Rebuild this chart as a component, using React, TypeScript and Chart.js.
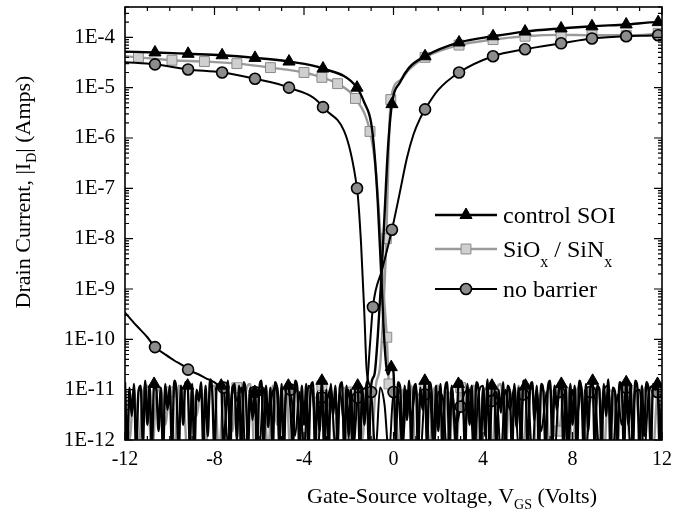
import React, { useEffect, useRef } from 'react';
import { Chart, registerables } from 'chart.js';

Chart.register(...registerables);

const SERIF = '"Liberation Serif", "Times New Roman", Times, serif';

// ---------------- axes ----------------
const X_MIN = -12;
const X_MAX = 12;
const X_STEP = 4;
const Y_MIN = 1e-12;
const Y_MAX = 4e-4;

// ---------------- marker positions (V) ----------------
const triMarkV = [-10.66, -9.18, -7.66, -6.19, -4.67, -3.15, -1.63, -0.07, 1.41, 2.93, 4.45, 5.88, 7.49, 8.87, 10.4, 11.83];
const sqMarkV = [-11.4, -9.9, -8.45, -7.0, -5.5, -4.0, -3.2, -2.5, -1.7, -1.05, -0.3, -0.12, 1.41, 2.93, 4.45, 5.88, 7.49, 8.87, 10.4, 11.83];
const circMarkV = [-10.66, -9.18, -7.66, -6.19, -4.67, -3.15, -1.63, -0.92, -0.07, 1.41, 2.93, 4.45, 5.88, 7.49, 8.87, 10.4, 11.83];

// ---------------- control SOI ----------------
// p-branch (on at negative V_GS), amps
const ctrlP_V = [-12, -10.66, -9.18, -7.66, -6.19, -4.67, -3.15, -1.63, -1.3, -1.0, -0.85, -0.7, -0.55, -0.4, -0.25];
const ctrlP_I = [5.2e-5, 5.0e-5, 4.7e-5, 4.4e-5, 3.9e-5, 3.3e-5, 2.4e-5, 1.0e-5, 5e-6, 2e-6, 5e-7, 5e-8, 2e-9, 8e-11, 2e-11];
// p-branch off-state floor, pA, from -0.1 V in 0.1 V steps
const ctrlP_offStart = -0.1;
const ctrlP_offStep = 0.1;
const ctrlP_off_pA = [
  28,
  22, 0.8, 14, 11, 0.5, 12, 2.5, 15, 0.6, 10,
  13, 0.5, 11, 4, 15, 0.7, 14, 9, 0.5, 12,
  1.5, 13, 0.6, 10, 14, 0.5, 12, 3, 0.8, 13,
  15, 9, 0.5, 13, 2, 12, 0.7, 14, 10, 0.5,
  11, 1.2, 16, 0.6, 12, 13, 0.5, 10, 3.5, 14,
  0.6, 12, 9, 0.5, 13, 1.8, 11, 0.7, 15, 12,
  0.5, 10, 14, 2.5, 12, 0.6, 13, 9, 0.5, 11,
  15, 0.8, 12, 4, 10, 13, 0.5, 11, 0.6, 13,
  2, 12, 0.5, 15, 9, 0.7, 13, 1.5, 11, 15,
  0.5, 12, 10, 0.6, 13, 3, 16, 0.5, 11, 9,
  0.8, 14, 12, 0.5, 14, 2, 13, 0.6, 15, 11,
  0.5, 12, 1.2, 14, 9, 0.6, 13, 10, 13, 0.5,
  12,
];
// n-branch off-state floor, pA, from -12 V in 0.1 V steps
const ctrlN_offStart = -12;
const ctrlN_offStep = 0.1;
const ctrlN_off_pA = [
  14, 0.6, 11, 3, 13, 0.5, 9, 12, 0.8, 15,
  2, 12, 0.7, 13, 10, 1.5, 11, 0.5, 13, 4,
  12, 0.6, 15, 9, 0.5, 12, 2, 14, 12, 0.8,
  13, 0.5, 10, 6, 14, 0.7, 12, 1.2, 16, 9,
  0.5, 13, 11, 12, 0.6, 3, 15, 0.5, 10, 13,
  1, 12, 0.5, 14, 8, 0.7, 11, 2.5, 9, 0.5,
  10, 15, 0.6, 12, 1.8, 11, 0.5, 14, 9, 0.8,
  13, 0.5, 12, 12, 4, 0.6, 15, 11, 0.5, 12,
  2, 13, 0.7, 11, 14, 0.5, 9, 1.5, 15, 0.6,
  10, 0.5, 13, 3, 12, 0.8, 11, 14, 0.5, 12,
  1.2, 10, 0.6, 13, 12, 0.5, 11, 2, 14, 0.7,
  12,
];
// n-branch (on at positive V_GS), amps
const ctrlN_V = [-0.85, -0.7, -0.55, -0.4, -0.25, -0.07, 0.3, 0.7, 1.41, 2.93, 4.45, 5.88, 7.49, 8.87, 10.4, 11.83, 12];
const ctrlN_I = [2e-11, 1.2e-10, 1.5e-9, 3e-8, 6e-7, 4.7e-6, 1.3e-5, 2.5e-5, 4.2e-5, 7.9e-5, 1.05e-4, 1.3e-4, 1.5e-4, 1.66e-4, 1.8e-4, 2.0e-4, 2.0e-4];

// ---------------- SiOx / SiNx ----------------
const sioP_V = [-12, -11.4, -9.9, -8.45, -7.0, -5.5, -4.0, -3.2, -2.5, -1.7, -1.05, -0.8, -0.6, -0.45, -0.3];
const sioP_I = [4.2e-5, 4.0e-5, 3.5e-5, 3.3e-5, 3.0e-5, 2.5e-5, 2.0e-5, 1.6e-5, 1.2e-5, 6.1e-6, 1.35e-6, 2.5e-7, 1.5e-8, 1e-9, 1.1e-10];
const sioP_offStart = -0.2;
const sioP_offStep = 0.2;
const sioP_off_pA = [
  13, 9,
  0.6, 10, 3, 12, 0.5, 8, 11, 0.7, 10,
  12, 0.5, 9, 7, 0.6, 11, 2, 10, 12, 0.5,
  8, 11, 0.6, 9, 13, 0.5, 10, 3, 12, 0.7,
  9, 11, 0.5, 10, 8, 0.6, 12, 1.5, 9, 11,
  0.5, 10, 12, 0.7, 9, 4, 11, 0.5, 10, 8,
  0.6, 12, 9, 0.5, 11, 2, 10, 12, 0.6, 9,
  11,
];
const sioN_offStart = -12;
const sioN_offStep = 0.2;
const sioN_off_pA = [
  8, 1, 10, 0.6, 9, 12, 0.5, 7, 11, 2,
  9, 0.6, 12, 8, 0.5, 10, 3, 11, 0.7, 9,
  12, 0.5, 8, 10, 1.5, 11, 0.6, 9, 13, 0.5,
  10, 7, 0.6, 12, 2, 9, 11, 0.5, 10, 8,
  0.7, 11, 9, 0.5, 12, 4, 10, 0.6, 8, 11,
  0.5, 9, 12, 1, 10, 0.6, 11,
];
const sioN_V = [-0.6, -0.45, -0.32, -0.22, -0.12, 0.3, 0.7, 1.41, 2.93, 4.45, 5.88, 7.49, 8.87, 10.4, 11.83, 12];
const sioN_I = [3e-11, 4e-10, 1e-8, 5e-7, 5.8e-6, 1.4e-5, 2.3e-5, 4e-5, 7e-5, 9e-5, 1.05e-4, 1.12e-4, 1.1e-4, 1.1e-4, 1.2e-4, 1.25e-4];

// ---------------- no barrier ----------------
const nbP_V = [-12, -10.66, -9.18, -7.66, -6.19, -4.67, -3.15, -1.63, -1.45, -1.3, -1.2];
const nbP_I = [3.2e-5, 2.9e-5, 2.3e-5, 2.0e-5, 1.5e-5, 1.0e-5, 4.1e-6, 1.0e-7, 8e-9, 3e-10, 2.5e-11];
const nbP_offStart = -1.0;
const nbP_offStep = 0.2;
const nbP_off_pA = [
  9, 0.6, 11, 5, 0.5, 9, 8, 0.7, 10, 3,
  11, 0.5, 8, 10, 0.6, 9, 7, 0.5, 11, 2,
  4.6, 9, 10, 0.5, 8, 12, 0.6, 6, 9, 0.5,
  10, 4, 11, 0.6, 8, 9, 0.5, 10, 1.5, 7,
  11, 0.5, 9, 8, 0.6, 10, 3, 11, 0.5, 9,
  7, 0.6, 10, 12, 0.5, 8, 2, 11, 0.7, 9,
  10, 0.5, 8, 12, 9, 0.6,
];
// n-branch leakage tail at negative V_GS, pA
const nbN_tailV = [-12, -11.5, -11, -10.66, -10.2, -9.8, -9.4, -9.18, -8.7, -8.4, -8.0];
const nbN_tail_pA = [340, 190, 110, 70, 50, 38, 30, 25, 20, 17, 14];
const nbN_offStart = -7.8;
const nbN_offStep = 0.2;
const nbN_off_pA = [
  12, 11, 0.8, 12, 6, 11, 0.5, 10, 9, 0.6,
  11, 3, 9, 12, 0.5, 8, 10, 1.2, 9, 0.6,
  12, 7, 0.5, 7, 6, 11, 0.7, 9, 2, 10,
  0.6, 7, 10,
];
const nbN_V = [-1.2, -1.05, -0.92, -0.5, -0.07, 0.25, 0.6, 0.9, 1.18, 1.41, 2.0, 2.93, 4.45, 5.88, 7.49, 8.87, 10.4, 11.83, 12];
const nbN_I = [1.2e-11, 8e-11, 4.4e-10, 2.5e-9, 1.5e-8, 7e-8, 4e-7, 1.2e-6, 2.4e-6, 3.7e-6, 9e-6, 2e-5, 4.2e-5, 5.8e-5, 7.6e-5, 9.5e-5, 1.05e-4, 1.1e-4, 1.12e-4];

// ---------------- helpers ----------------
type Pt = { x: number; y: number };
const PA = 1e-12;

function pts(v: number[], i: number[], scale = 1): Pt[] {
  return v.map((x, k) => ({ x, y: i[k] * scale }));
}
function grid(start: number, step: number, vals: number[], scale: number): Pt[] {
  return vals.map((y, k) => ({ x: +(start + k * step).toFixed(3), y: y * scale }));
}
function markerSet(data: Pt[], marks: number[], tol: number): Set<number> {
  const s = new Set<number>();
  marks.forEach((m) => {
    let best = -1;
    let bd = Infinity;
    data.forEach((p, k) => {
      const d = Math.abs(p.x - m);
      if (d < bd - 1e-9) {
        bd = d;
        best = k;
      }
    });
    if (best >= 0 && bd <= tol) s.add(best);
  });
  return s;
}

type Style = {
  line: string;
  width: number;
  pointStyle: string;
  radius: number;
  fill: string;
  border: string;
  pBorder: number;
};
const CTRL: Style = { line: '#000', width: 2.4, pointStyle: 'triangle', radius: 7, fill: '#000', border: '#000', pBorder: 1 };
const SIO: Style = { line: '#9a9a9a', width: 2.4, pointStyle: 'rect', radius: 7, fill: '#cfcfcf', border: '#8a8a8a', pBorder: 1 };
const NB: Style = { line: '#000', width: 2, pointStyle: 'circle', radius: 5.5, fill: '#8c8c8c', border: '#000', pBorder: 1.6 };

function makeDs(data: Pt[], st: Style, marks: number[], tol: number) {
  const ms = markerSet(data, marks, tol);
  return {
    data,
    borderColor: st.line,
    borderWidth: st.width,
    backgroundColor: st.fill,
    pointStyle: st.pointStyle,
    pointBackgroundColor: st.fill,
    pointBorderColor: st.border,
    pointBorderWidth: st.pBorder,
    pointRadius: (c: any) => (ms.has(c.dataIndex) ? st.radius : 0),
    pointHoverRadius: 0,
    cubicInterpolationMode: 'monotone',
    fill: false,
  };
}

// legend marker (same geometry as Chart.js point styles)
function drawMarker(ctx: CanvasRenderingContext2D, st: Style, x: number, y: number) {
  const r = st.radius;
  ctx.beginPath();
  if (st.pointStyle === 'triangle') {
    for (let k = 0; k < 3; k++) {
      const ang = (k * 2 * Math.PI) / 3;
      const px = x + Math.sin(ang) * r;
      const py = y - Math.cos(ang) * r;
      if (k === 0) ctx.moveTo(px, py);
      else ctx.lineTo(px, py);
    }
    ctx.closePath();
  } else if (st.pointStyle === 'rect') {
    const s = Math.SQRT1_2 * r;
    ctx.rect(x - s, y - s, 2 * s, 2 * s);
  } else {
    ctx.arc(x, y, r, 0, Math.PI * 2);
  }
  ctx.fillStyle = st.fill;
  ctx.fill();
  ctx.strokeStyle = st.border;
  ctx.lineWidth = st.pBorder;
  ctx.stroke();
}

// ---------------- text helpers ----------------
type Part = { t: string; sub?: boolean };
function drawParts(ctx: CanvasRenderingContext2D, parts: Part[], x: number, y: number, size: number, subSize: number, subDy: number, center: boolean) {
  const widths = parts.map((p) => {
    ctx.font = `${p.sub ? subSize : size}px ${SERIF}`;
    return ctx.measureText(p.t).width;
  });
  const total = widths.reduce((a, b) => a + b, 0);
  let cx = center ? x - total / 2 : x;
  ctx.textAlign = 'left';
  ctx.textBaseline = 'alphabetic';
  parts.forEach((p, k) => {
    ctx.font = `${p.sub ? subSize : size}px ${SERIF}`;
    ctx.fillText(p.t, cx, y + (p.sub ? subDy : 0));
    cx += widths[k];
  });
}

const X_TITLE: Part[] = [{ t: 'Gate-Source voltage, V' }, { t: 'GS', sub: true }, { t: ' (Volts)' }];
const Y_TITLE: Part[] = [{ t: 'Drain Current, |I' }, { t: 'D', sub: true }, { t: '| (Amps)' }];
const LEGEND: { parts: Part[]; st: Style }[] = [
  { parts: [{ t: 'control SOI' }], st: CTRL },
  { parts: [{ t: 'SiO' }, { t: 'x', sub: true }, { t: ' / SiN' }, { t: 'x', sub: true }], st: SIO },
  { parts: [{ t: 'no barrier' }], st: NB },
];

const framePlugin = {
  id: 'framePlugin',
  afterDraw(chart: any) {
    const { ctx, chartArea: a, scales } = chart;
    const xs = scales.x;
    const ys = scales.y;
    ctx.save();
    ctx.strokeStyle = '#000';
    ctx.lineWidth = 1.6;
    ctx.strokeRect(a.left, a.top, a.right - a.left, a.bottom - a.top);
    ctx.lineWidth = 1.2;
    ctx.beginPath();
    for (let v = X_MIN; v <= X_MAX; v += 1) {
      const px = xs.getPixelForValue(v);
      const len = v % X_STEP === 0 ? 8 : 4;
      ctx.moveTo(px, a.bottom);
      ctx.lineTo(px, a.bottom - len);
      ctx.moveTo(px, a.top);
      ctx.lineTo(px, a.top + len);
    }
    for (let e = -12; e <= -4; e++) {
      for (let m = 1; m <= 9; m++) {
        const v = m * Math.pow(10, e);
        if (v > Y_MAX * 1.0001) continue;
        const py = ys.getPixelForValue(v);
        const len = m === 1 ? 8 : 4;
        ctx.moveTo(a.left, py);
        ctx.lineTo(a.left + len, py);
        ctx.moveTo(a.right, py);
        ctx.lineTo(a.right - len, py);
      }
    }
    ctx.stroke();

    ctx.fillStyle = '#000';
    drawParts(ctx, X_TITLE, 452, 503, 22, 14, 6, true);
    ctx.save();
    ctx.translate(30, 192);
    ctx.rotate(-Math.PI / 2);
    drawParts(ctx, Y_TITLE, 0, 0, 22, 14, 6, true);
    ctx.restore();

    const rows = [215, 249, 289];
    LEGEND.forEach((item, k) => {
      const y = rows[k];
      ctx.strokeStyle = item.st.line;
      ctx.lineWidth = item.st.width;
      ctx.beginPath();
      ctx.moveTo(435, y);
      ctx.lineTo(497, y);
      ctx.stroke();
      drawMarker(ctx, item.st, 466, y);
      ctx.fillStyle = '#000';
      drawParts(ctx, item.parts, 503, y + 8, 24, 16, 10, false);
    });
    ctx.restore();
  },
};

export default function App() {
  const ref = useRef<HTMLCanvasElement | null>(null);
  useEffect(() => {
    if (!ref.current) return;
    const ctrlP = [...pts(ctrlP_V, ctrlP_I), ...grid(ctrlP_offStart, ctrlP_offStep, ctrlP_off_pA, PA)];
    const ctrlN = [...grid(ctrlN_offStart, ctrlN_offStep, ctrlN_off_pA, PA), ...pts(ctrlN_V, ctrlN_I)];
    const sioP = [...pts(sioP_V, sioP_I), ...grid(sioP_offStart, sioP_offStep, sioP_off_pA, PA)];
    const sioN = [...grid(sioN_offStart, sioN_offStep, sioN_off_pA, PA), ...pts(sioN_V, sioN_I)];
    const nbP = [...pts(nbP_V, nbP_I), ...grid(nbP_offStart, nbP_offStep, nbP_off_pA, PA)];
    const nbN = [...pts(nbN_tailV, nbN_tail_pA, PA), ...grid(nbN_offStart, nbN_offStep, nbN_off_pA, PA), ...pts(nbN_V, nbN_I)];

    const chart = new Chart(ref.current, {
      type: 'line',
      data: {
        datasets: [
          makeDs(ctrlP, CTRL, triMarkV, 0.06),
          makeDs(ctrlN, CTRL, triMarkV, 0.06),
          makeDs(nbP, NB, circMarkV, 0.11),
          makeDs(nbN, NB, circMarkV, 0.11),
          makeDs(sioP, SIO, sqMarkV, 0.11),
          makeDs(sioN, SIO, sqMarkV, 0.11),
        ] as any,
      },
      options: {
        responsive: false,
        animation: false,
        layout: { padding: { top: 7, right: 14, left: 0, bottom: 0 } },
        plugins: { legend: { display: false }, tooltip: { enabled: false } },
        scales: {
          x: {
            type: 'linear',
            min: X_MIN,
            max: X_MAX,
            grid: { display: false, drawTicks: false },
            border: { display: false },
            ticks: {
              stepSize: X_STEP,
              color: '#000',
              padding: 8,
              font: { family: SERIF, size: 20 },
              callback: (v: any) => String(v),
            },
            afterFit: (s: any) => {
              s.height = 89;
              s.paddingLeft = 0;
              s.paddingRight = 0;
            },
          },
          y: {
            type: 'logarithmic',
            min: Y_MIN,
            max: Y_MAX,
            grid: { display: false, drawTicks: false },
            border: { display: false },
            ticks: {
              autoSkip: false,
              color: '#000',
              padding: 10,
              font: { family: SERIF, size: 21 },
              callback: (v: any) => {
                const e = Math.log10(Number(v));
                const r = Math.round(e);
                return Math.abs(e - r) < 1e-6 && r <= -4 ? `1E${r}` : '';
              },
            },
            afterFit: (s: any) => {
              s.width = 125;
              s.paddingTop = 0;
              s.paddingBottom = 0;
            },
          },
        },
      },
      plugins: [framePlugin],
    });
    return () => chart.destroy();
  }, []);

  return (
    <div style={{ position: 'absolute', left: 0, top: 0, width: 676, height: 529, background: '#fff' }}>
      <canvas ref={ref} width={676} height={529} style={{ width: 676, height: 529 }} />
    </div>
  );
}
